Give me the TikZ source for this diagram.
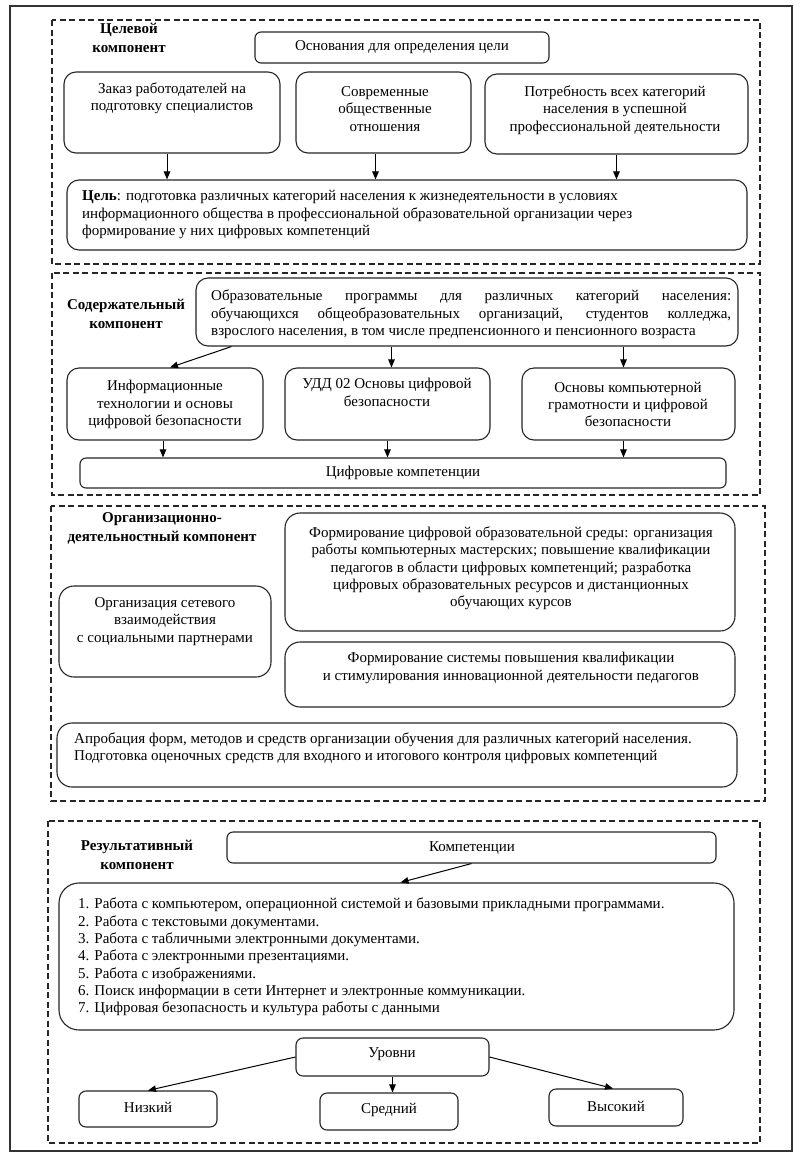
\documentclass[tikz,border=0pt]{standalone}
\usepackage{fontspec}
\setmainfont{Liberation Serif}
\usetikzlibrary{arrows.meta,fit,calc}
\begin{document}
\begin{tikzpicture}[x=1pt,y=-1pt,
  every node/.style={font=\fontsize{15}{17.3}\selectfont},
  rbox/.style={draw=black!85,line width=1.1pt,rounded corners=12pt,inner sep=0pt},
  sbox/.style={draw=black!85,line width=1.1pt,rounded corners=6pt,inner sep=0pt},
  txt/.style={align=center,inner sep=0pt},
  ltxt/.style={align=left,inner sep=0pt,anchor=west},
  lbl/.style={align=center,inner sep=0pt,font=\fontsize{15}{19}\selectfont\bfseries},
  sect/.style={draw=black!85,line width=1.2pt,dash pattern=on 6pt off 3.5pt},
  arr/.style={draw=black,line width=1pt,-{Triangle[length=8pt,width=6.5pt]}}
]
\useasboundingbox (0,0) rectangle (801,1160);
\fill[white] (0,0) rectangle (801,1160);
\draw[black!80,line width=1.5pt] (10,6) rectangle (792,1151);

% ---------------- Section 1
\draw[sect] (52,20) rectangle (760,264);
\node[lbl] (l1) at (129,38) {Целевой\\компонент};
\node[sbox,fit={(255,32) (549,63)}] (osn) {};
\node[txt] (osnT) at (402,47) {Основания для определения цели};
\node[rbox,fit={(64,72) (280,153)}] (b1) {};
\node[txt] (b1T) at (172,98.5) {Заказ работодателей на\\подготовку специалистов};
\node[rbox,fit={(296,72) (471,153)}] (b2) {};
\node[txt] (b2T) at (385,109) {Современные\\общественные\\отношения};
\node[rbox,fit={(485,74) (748,154)}] (b3) {};
\node[txt] (b3T) at (615,110) {Потребность всех категорий\\населения в успешной\\профессиональной деятельности};
\node[rbox,fit={(67,180) (747,250)}] (goal) {};
\node[ltxt] (goalT) at (82,214.5) {\textbf{Цель}: подготовка различных категорий населения к жизнедеятельности в условиях\\информационного общества в профессиональной образовательной организации через\\формирование у них цифровых компетенций};
\draw[arr] ([xshift=-5pt]b1.south) -- ([xshift=-5pt]b1.south |- goal.north);
\draw[arr] ([xshift=-8pt]b2.south) -- ([xshift=-8pt]b2.south |- goal.north);
\draw[arr] (b3.south) -- (b3.south |- goal.north);

% ---------------- Section 2
\draw[sect] (52,273) rectangle (760,495);
\node[lbl] (l2) at (126,314) {Содержательный\\компонент};
\node[rbox,fit={(196,278) (738,346)}] (prog) {};
\node[ltxt] (progT) at (211,314.5) {\makebox[520pt][s]{Образовательные программы для различных категорий населения:}\\\makebox[520pt][s]{обучающихся общеобразовательных организаций, студентов колледжа,}\\взрослого населения, в том числе предпенсионного и пенсионного возраста};
\node[rbox,fit={(67,368) (263,440)}] (cA) {};
\node[txt] (cAT) at (165,404.5) {Информационные\\технологии и основы\\цифровой безопасности};
\node[rbox,fit={(285,368) (490,440)}] (cB) {};
\node[txt] (cBT) at (387,392.5) {УДД 02 Основы цифровой\\безопасности};
\node[rbox,fit={(522,368) (735,440)}] (cC) {};
\node[txt] (cCT) at (628,404.5) {Основы компьютерной\\грамотности и цифровой\\безопасности};
\node[sbox,fit={(80,458) (726,488)}] (dig) {};
\node[txt] (digT) at (403,473) {Цифровые компетенции};
\draw[arr] ([xshift=36pt]prog.south west) -- ([xshift=5pt]cA.north);
\draw[arr] ([xshift=4pt]cB.north |- prog.south) -- ([xshift=4pt]cB.north);
\draw[arr] ([xshift=-5pt]cC.north |- prog.south) -- ([xshift=-5pt]cC.north);
\draw[arr] ([xshift=-2pt]cA.south) -- ([xshift=-2pt]cA.south |- dig.north);
\draw[arr] (cB.south) -- (cB.south |- dig.north);
\draw[arr] ([xshift=-5pt]cC.south) -- ([xshift=-5pt]cC.south |- dig.north);

% ---------------- Section 3
\draw[sect] (51,506) rectangle (765,801);
\node[lbl] (l3) at (162,528) {Организационно-\\деятельностный компонент};
\node[rbox,rounded corners=15pt,fit={(285,513) (735,631)}] (env) {};
\node[txt] (envT) at (511,568.5) {Формирование цифровой образовательной среды: организация\\работы компьютерных мастерских; повышение квалификации\\педагогов в области цифровых компетенций; разработка\\цифровых образовательных ресурсов и дистанционных\\обучающих курсов};
\node[rbox,rounded corners=15pt,fit={(59,586) (271,677)}] (net) {};
\node[txt] (netT) at (165,621.5) {Организация сетевого\\взаимодействия\\с социальными партнерами};
\node[rbox,rounded corners=15pt,fit={(285,642) (735,707)}] (sys) {};
\node[txt] (sysT) at (511,668) {Формирование системы повышения квалификации\\и стимулирования инновационной деятельности педагогов};
\node[rbox,rounded corners=15pt,fit={(57,723) (737,787)}] (apr) {};
\node[ltxt] (aprT) at (74,748.5) {Апробация форм, методов и средств организации обучения для различных категорий населения.\\Подготовка оценочных средств для входного и итогового контроля цифровых компетенций};

% ---------------- Section 4
\draw[sect] (48,821) rectangle (760,1143);
\node[lbl] (l4) at (137,855) {Результативный\\компонент};
\node[sbox,fit={(227,832) (716,863)}] (komp) {};
\node[txt] (kompT) at (472,848) {Компетенции};
\node[rbox,rounded corners=20pt,fit={(59,883) (734,1030)}] (list) {};
\node[ltxt] (listT) at (78,957) {1. Работа с компьютером, операционной системой и базовыми прикладными программами.\\2. Работа с текстовыми документами.\\3. Работа с табличными электронными документами.\\4. Работа с электронными презентациями.\\5. Работа с изображениями.\\6. Поиск информации в сети Интернет и электронные коммуникации.\\7. Цифровая безопасность и культура работы с данными};
\node[sbox,rounded corners=7pt,fit={(296,1038) (489,1076)}] (lev) {};
\node[txt] (levT) at (392,1054) {Уровни};
\node[sbox,rounded corners=7pt,fit={(79,1091) (217,1127)}] (nz) {};
\node[txt] (nzT) at (148,1107) {Низкий};
\node[sbox,rounded corners=7pt,fit={(320,1093) (458,1130)}] (sr) {};
\node[txt] (srT) at (389,1110) {Средний};
\node[sbox,rounded corners=7pt,fit={(549,1089) (683,1126)}] (vy) {};
\node[txt] (vyT) at (616,1106) {Высокий};
\draw[arr] (komp.south) -- ([xshift=4pt]list.north);
\draw[arr] (lev.west) -- (nz.north);
\draw[arr] (lev.south) -- (lev.south |- sr.north);
\draw[arr] (lev.east) -- ([xshift=-3pt]vy.north);
\end{tikzpicture}
\end{document}
